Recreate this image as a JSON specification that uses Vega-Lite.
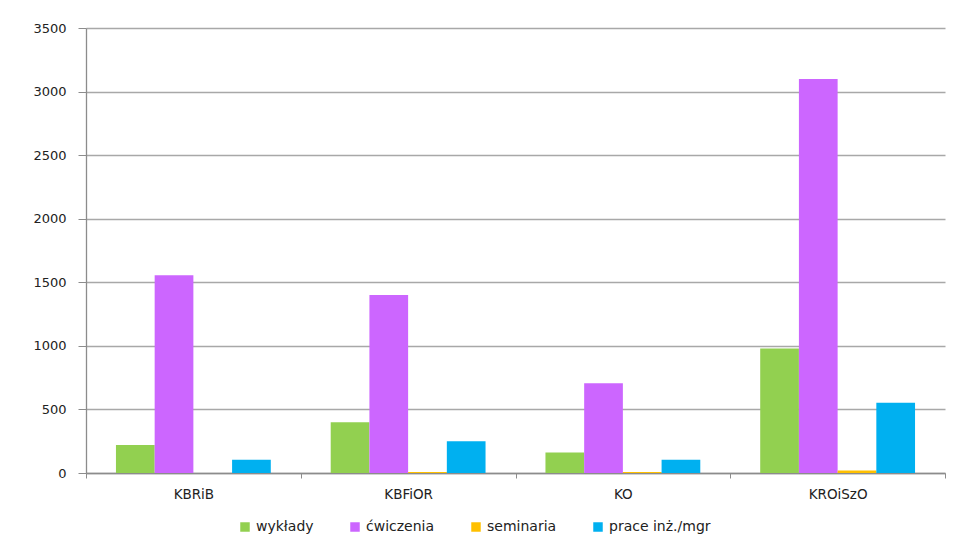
{
  "$schema": "https://vega.github.io/schema/vega-lite/v6.json",
  "width": 859,
  "height": 445,
  "autosize": {"type": "none"},
  "padding": {"left": 86, "top": 28, "right": 9, "bottom": 71},
  "background": "white",
  "data": {
    "values": [
      {"katedra": "KBRiB", "rodzaj": "wykłady", "godziny": 220},
      {"katedra": "KBRiB", "rodzaj": "ćwiczenia", "godziny": 1555},
      {"katedra": "KBRiB", "rodzaj": "seminaria", "godziny": 0},
      {"katedra": "KBRiB", "rodzaj": "prace inż./mgr", "godziny": 105},
      {"katedra": "KBFiOR", "rodzaj": "wykłady", "godziny": 400},
      {"katedra": "KBFiOR", "rodzaj": "ćwiczenia", "godziny": 1400},
      {"katedra": "KBFiOR", "rodzaj": "seminaria", "godziny": 8},
      {"katedra": "KBFiOR", "rodzaj": "prace inż./mgr", "godziny": 250},
      {"katedra": "KO", "rodzaj": "wykłady", "godziny": 162},
      {"katedra": "KO", "rodzaj": "ćwiczenia", "godziny": 705},
      {"katedra": "KO", "rodzaj": "seminaria", "godziny": 8},
      {"katedra": "KO", "rodzaj": "prace inż./mgr", "godziny": 105},
      {"katedra": "KROiSzO", "rodzaj": "wykłady", "godziny": 980},
      {"katedra": "KROiSzO", "rodzaj": "ćwiczenia", "godziny": 3098},
      {"katedra": "KROiSzO", "rodzaj": "seminaria", "godziny": 20},
      {"katedra": "KROiSzO", "rodzaj": "prace inż./mgr", "godziny": 553}
    ]
  },
  "mark": {"type": "bar"},
  "encoding": {
    "x": {
      "field": "katedra",
      "type": "nominal",
      "sort": ["KBRiB", "KBFiOR", "KO", "KROiSzO"],
      "scale": {"paddingInner": 0, "paddingOuter": 0},
      "axis": {
        "title": null,
        "labelAngle": 0,
        "tickBand": "extent",
        "tickSize": 5,
        "labelPadding": 9,
        "labelFontSize": 13.5,
        "grid": false
      }
    },
    "xOffset": {
      "field": "rodzaj",
      "type": "nominal",
      "sort": ["wykłady", "ćwiczenia", "seminaria", "prace inż./mgr"],
      "scale": {"paddingInner": 0, "paddingOuter": 0.774}
    },
    "y": {
      "field": "godziny",
      "type": "quantitative",
      "scale": {"domain": [0, 3500], "nice": false},
      "axis": {
        "title": null,
        "values": [0, 500, 1000, 1500, 2000, 2500, 3000, 3500],
        "format": "d",
        "tickSize": 8,
        "labelPadding": 12,
        "labelFontSize": 13,
        "grid": true
      }
    },
    "color": {
      "field": "rodzaj",
      "type": "nominal",
      "sort": ["wykłady", "ćwiczenia", "seminaria", "prace inż./mgr"],
      "scale": {
        "domain": ["wykłady", "ćwiczenia", "seminaria", "prace inż./mgr"],
        "range": ["#92D050", "#CC66FF", "#FFC000", "#00B0F0"]
      },
      "legend": {
        "title": null,
        "orient": "none",
        "direction": "horizontal",
        "legendX": 152,
        "legendY": 492,
        "symbolType": "square",
        "symbolSize": 90,
        "symbolStrokeWidth": 0,
        "labelFontSize": 14,
        "labelOffset": 4,
        "columnPadding": 34,
        "padding": 0
      }
    }
  },
  "config": {
    "view": {"stroke": null},
    "font": "DejaVu Sans",
    "axis": {
      "labelFont": "DejaVu Sans",
      "labelColor": "#222222",
      "domainColor": "#8c8c8c",
      "tickColor": "#8c8c8c",
      "gridColor": "#a8a8a8",
      "gridOpacity": 1,
      "domainWidth": 1.3,
      "gridWidth": 1.3
    },
    "legend": {
      "labelFont": "DejaVu Sans",
      "labelColor": "#222222"
    }
  }
}
